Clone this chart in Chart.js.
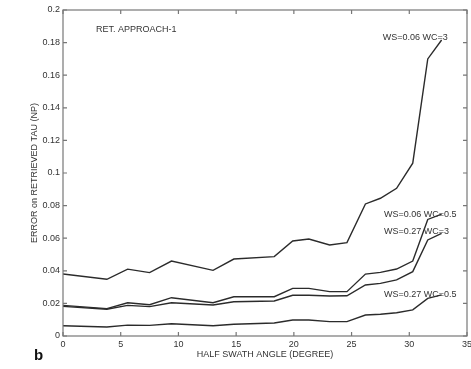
<!DOCTYPE html>
<html><head><meta charset="utf-8">
<script src="https://cdn.jsdelivr.net/npm/chart.js@4"></script>
<style>
html,body{margin:0;padding:0;background:#fff;overflow:hidden;width:471px;height:369px;}
#wrap{position:absolute;left:0;top:-6px;width:480px;height:375px;}
#b{position:absolute;left:34px;top:347px;font:bold 15px "Liberation Sans",Arial,sans-serif;color:#111;line-height:15px;}
</style></head><body>
<div id="wrap"><canvas id="c" width="480" height="375"></canvas></div>
<div id="b">b</div>
<script>
// ---- data ----
const angles     = [0, 3.8, 5.6, 7.5, 9.4, 13.0, 14.8, 18.3, 19.9, 21.3, 23.1, 24.6, 26.2, 27.5, 28.9, 30.3, 31.6, 32.8];
const ws006wc3   = [0.038, 0.0348, 0.041, 0.0389, 0.046, 0.0403, 0.0472, 0.0487, 0.0583, 0.0595, 0.0558, 0.0573, 0.081, 0.0845, 0.0906, 0.106, 0.170, 0.1816];
const ws006wc05  = [0.0188, 0.0168, 0.0204, 0.0192, 0.0235, 0.0204, 0.0241, 0.0241, 0.0292, 0.0292, 0.0272, 0.0272, 0.038, 0.039, 0.0411, 0.046, 0.0715, 0.0748];
const ws027wc3   = [0.0182, 0.0164, 0.0188, 0.018, 0.0204, 0.019, 0.021, 0.0215, 0.025, 0.025, 0.0245, 0.0247, 0.0313, 0.0323, 0.0344, 0.0395, 0.0589, 0.063];
const ws027wc05  = [0.0063, 0.0055, 0.0067, 0.0065, 0.0075, 0.0063, 0.0072, 0.008, 0.0098, 0.0098, 0.0088, 0.0088, 0.0129, 0.0133, 0.0143, 0.016, 0.0231, 0.0252];
const seriesNames = ['WS=0.06 WC=3', 'WS=0.06 WC=0.5', 'WS=0.27 WC=3', 'WS=0.27 WC=0.5'];
const xTicks = [0, 5, 10, 15, 20, 25, 30, 35];
const yTicks = [0, 0.02, 0.04, 0.06, 0.08, 0.1, 0.12, 0.14, 0.16, 0.18, 0.2];
const yTickLabels = ['0', '0.02', '0.04', '0.06', '0.08', '0.1', '0.12', '0.14', '0.16', '0.18', '0.2'];
const xTitle = 'HALF SWATH ANGLE (DEGREE)';
const yTitle = 'ERROR on RETRIEVED TAU (NP)';
const noteText = 'RET. APPROACH-1';

// annotation anchor points (data coordinates, left-middle of text)
const labelSpots = [[27.7, 0.1834], [27.8, 0.0748], [27.8, 0.0638], [27.8, 0.0252]];
const noteSpot = [2.85, 0.1883];

const allSeries = [ws006wc3, ws006wc05, ws027wc3, ws027wc05];
const FONT = '"Liberation Sans", Arial, sans-serif';

const datasets = allSeries.map((s, i) => ({
  label: seriesNames[i],
  data: angles.map((a, j) => ({x: a, y: s[j]})),
  borderColor: '#2b2b2b',
  borderWidth: 1.4,
  pointRadius: 0,
  tension: 0,
  fill: false
}));

const decor = {
  id: 'decor',
  afterDatasetsDraw(chart) {
    const {ctx, chartArea: ca, scales: {x, y}} = chart;
    ctx.save();
    // frame
    ctx.strokeStyle = '#777';
    ctx.lineWidth = 1.2;
    ctx.strokeRect(ca.left, ca.top, ca.right - ca.left, ca.bottom - ca.top);
    // inward ticks
    ctx.beginPath();
    const tl = 4;
    yTicks.forEach(v => {
      const py = y.getPixelForValue(v);
      ctx.moveTo(ca.left, py); ctx.lineTo(ca.left + tl, py);
      ctx.moveTo(ca.right, py); ctx.lineTo(ca.right - tl, py);
    });
    xTicks.forEach(v => {
      const px = x.getPixelForValue(v);
      ctx.moveTo(px, ca.bottom); ctx.lineTo(px, ca.bottom - tl);
      ctx.moveTo(px, ca.top); ctx.lineTo(px, ca.top + tl);
    });
    ctx.stroke();
    // labels
    ctx.fillStyle = '#333';
    ctx.font = '9px ' + FONT;
    ctx.textAlign = 'left';
    ctx.textBaseline = 'middle';
    seriesNames.forEach((t, i) => {
      ctx.fillText(t, x.getPixelForValue(labelSpots[i][0]), y.getPixelForValue(labelSpots[i][1]));
    });
    ctx.fillText(noteText, x.getPixelForValue(noteSpot[0]), y.getPixelForValue(noteSpot[1]));
    ctx.restore();
  }
};

new Chart(document.getElementById('c'), {
  type: 'line',
  data: {datasets},
  options: {
    responsive: false,
    animation: false,
    devicePixelRatio: 1,
    layout: {padding: {left: 0, right: 13, top: 16, bottom: 0}},
    plugins: {legend: {display: false}, tooltip: {enabled: false}},
    font: {family: FONT, size: 9},
    scales: {
      x: {
        type: 'linear', min: 0, max: 35,
        afterBuildTicks: s => { s.ticks = xTicks.map(v => ({value: v})); },
        afterFit: s => { s.height = 33; },
        grid: {display: false, drawTicks: false},
        border: {display: false},
        ticks: {padding: 3, color: '#333', font: {family: FONT, size: 9}, maxRotation: 0, autoSkip: false},
        title: {display: true, text: xTitle, color: '#333', font: {family: FONT, size: 9}, padding: {top: 0, bottom: 8.6}}
      },
      y: {
        type: 'linear', min: 0, max: 0.2,
        afterBuildTicks: s => { s.ticks = yTicks.map(v => ({value: v})); },
        afterFit: s => { s.width = 63; },
        grid: {display: false, drawTicks: false},
        border: {display: false},
        ticks: {padding: 3, color: '#333', font: {family: FONT, size: 9}, autoSkip: false,
          callback: (v, i) => yTickLabels[i]},
        title: {display: true, text: yTitle, color: '#333', font: {family: FONT, size: 9}, padding: {top: 29.6, bottom: 0}}
      }
    }
  },
  plugins: [decor]
});
</script>
</body></html>
